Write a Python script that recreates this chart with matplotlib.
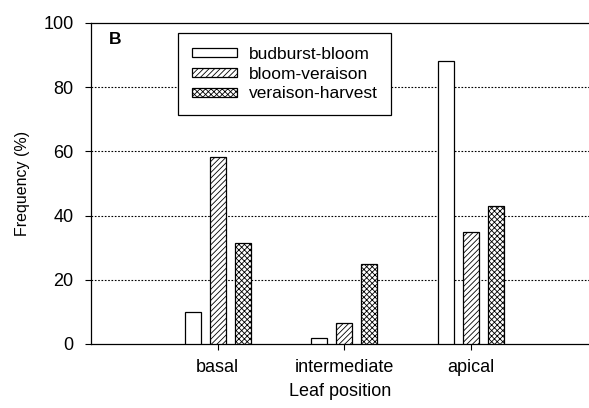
import numpy as np
import matplotlib
matplotlib.use("Agg")
import matplotlib.pyplot as plt

matplotlib.rcParams['font.family'] = ['Liberation Sans', 'DejaVu Sans']
matplotlib.rcParams['hatch.linewidth'] = 0.6

positions = ["basal", "intermediate", "apical"]
series = ["budburst-bloom", "bloom-veraison", "veraison-harvest"]
budburst_bloom = [10, 2, 88]
bloom_veraison = [58.3, 6.5, 35]
veraison_harvest = [31.5, 25, 43]
values = [budburst_bloom, bloom_veraison, veraison_harvest]
hatches = ["", "//////", "xxxxxx"]

fig = plt.figure(figsize=(5.89, 4.08), dpi=100)
ax = fig.add_axes([0.1545, 0.157, 0.8455, 0.787])

x = np.arange(1, len(positions) + 1)
width = 0.126
step = 0.197
for i, (name, vals, h) in enumerate(zip(series, values, hatches)):
    ax.bar(x + (i - 1) * step, vals, width, label=name, color="white",
           edgecolor="black", linewidth=0.9, hatch=h, zorder=3)

ax.set_xlim(0, 3.93)
ax.set_ylim(0, 100)
ax.set_yticks([0, 20, 40, 60, 80, 100])
ax.set_xticks(x)
ax.set_xticklabels(positions)
for yv in [20, 40, 60, 80]:
    ax.axhline(yv, color="black", linestyle=(0, (1.5, 1.5)), linewidth=0.8, zorder=1)

ax.spines['right'].set_visible(False)
for s in ['left', 'bottom', 'top']:
    ax.spines[s].set_linewidth(0.9)
ax.tick_params(axis='both', direction='out', length=4, width=0.8, labelsize=13)
ax.tick_params(axis='y', pad=8.5)
ax.tick_params(axis='x', pad=7)

ax.set_xlabel("Leaf position", fontsize=13, labelpad=5)
ax.set_ylabel("Frequency (%)", fontsize=11.5, labelpad=10)
ax.text(0.036, 0.972, "B", transform=ax.transAxes, fontsize=12.5, fontweight="bold",
        va="top", ha="left")

leg = ax.legend(loc="upper left", bbox_to_anchor=(0.175, 0.969), fontsize=12.5,
                fancybox=False, edgecolor="black", framealpha=1,
                handlelength=2.6, handleheight=0.42, labelspacing=0.28,
                borderpad=0.8, handletextpad=0.65, borderaxespad=0)
leg.get_frame().set_linewidth(0.9)

fig.savefig("out.png", dpi=100)
